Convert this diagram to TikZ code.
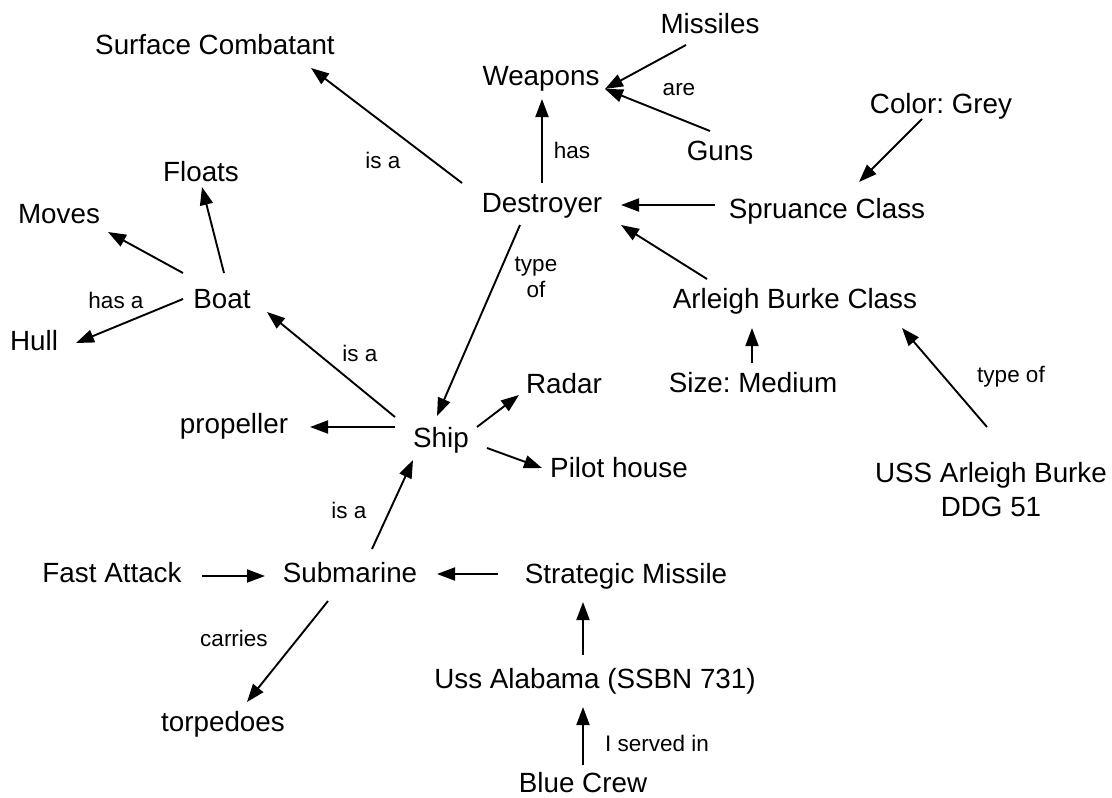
\documentclass[tikz,border=0pt]{standalone}
\usepackage{fontspec}
\setmainfont{Liberation Sans}
\usetikzlibrary{arrows.meta}
\frenchspacing
\tikzset{
  concept/.style={font=\fontsize{27.8}{34}\selectfont, inner sep=0pt, anchor=base},
  linklabel/.style={font=\fontsize{22.5}{26}\selectfont, inner sep=0pt, anchor=base},
  conn/.style={line width=1.9pt, -{Triangle[length=18pt,width=13pt]}}
}
\begin{document}
\begin{tikzpicture}[x=1pt,y=-1pt]
\useasboundingbox (0,0) rectangle (1112,798);
% concepts
\node[concept] (surface) at (215,54) {Surface Combatant};
\node[concept] (missiles) at (710,33) {Missiles};
\node[concept] (weapons) at (541,85) {Weapons};
\node[concept] (guns) at (720,160) {Guns};
\node[concept] (color) at (941,113) {Color: Grey};
\node[concept] (destroyer) at (542,212) {Destroyer};
\node[concept] (spruance) at (827,218) {Spruance Class};
\node[concept] (floats) at (201,181) {Floats};
\node[concept] (moves) at (59,223) {Moves};
\node[concept] (boat) at (222,308) {Boat};
\node[concept] (hull) at (34,350) {Hull};
\node[concept] (arleigh) at (795,308) {Arleigh Burke Class};
\node[concept] (radar) at (564,393) {Radar};
\node[concept] (sizemed) at (753,392) {Size: Medium};
\node[concept] (propeller) at (234,433) {propeller};
\node[concept] (ship) at (441,447) {Ship};
\node[concept] (pilot) at (619,477) {Pilot house};
\node[concept, anchor=center, align=center] (uss) at (991,490) {USS Arleigh Burke\\DDG 51};
\node[concept] (fast) at (112,582) {Fast Attack};
\node[concept] (submarine) at (350,582) {Submarine};
\node[concept] (strategic) at (626,583) {Strategic Missile};
\node[concept] (alabama) at (595,688) {Uss Alabama (SSBN 731)};
\node[concept] (torpedoes) at (223,731) {torpedoes};
\node[concept] (blue) at (583,792) {Blue Crew};
% linking phrases
\node[linklabel] (are) at (679,95) {are};
\node[linklabel] (has) at (572,158) {has};
\node[linklabel] (isa1) at (383,168) {is a};
\node[linklabel, anchor=center, align=center] (typeof1) at (536,277) {type\\of};
\node[linklabel] (hasa) at (116,308) {has a};
\node[linklabel] (isa2) at (360,361) {is a};
\node[linklabel] (typeof2) at (1011,382) {type of};
\node[linklabel] (isa3) at (349,518) {is a};
\node[linklabel] (carries) at (234,646) {carries};
\node[linklabel] (served) at (657,751) {I served in};
% connectors
\draw[conn] ([shift={(-80,-29)}]destroyer.base) -- ([shift={(96,14)}]surface.base);
\draw[conn] ([shift={(0,-29)}]destroyer.base) -- ([shift={(1,14)}]weapons.base);
\draw[conn] ([shift={(-24,12)}]missiles.base) -- ([shift={(64,4)}]weapons.base);
\draw[conn] ([shift={(-10,-29)}]guns.base) -- ([shift={(64,4)}]weapons.base);
\draw[conn] ([shift={(-112,-13)}]spruance.base) -- ([shift={(79,-7)}]destroyer.base);
\draw[conn] ([shift={(-19,6)}]color.base) -- ([shift={(32,-36)}]spruance.base);
\draw[conn] ([shift={(-88,-29)}]arleigh.base) -- ([shift={(79,13)}]destroyer.base);
\draw[conn] ([shift={(-1,-29)}]sizemed.base) -- ([shift={(-43,20)}]arleigh.base);
\draw[conn] ([shift={(-4,-63)}]uss.center) -- ([shift={(107,20)}]arleigh.base);
\draw[conn] ([shift={(-22,13)}]destroyer.base) -- ([shift={(-4,-31)}]ship.base);
\draw[conn] ([shift={(-46,-30)}]ship.base) -- ([shift={(45,4)}]boat.base);
\draw[conn] ([shift={(2,-35)}]boat.base) -- ([shift={(1,6)}]floats.base);
\draw[conn] ([shift={(-39,-35)}]boat.base) -- ([shift={(49,9)}]moves.base);
\draw[conn] ([shift={(-39,-9)}]boat.base) -- ([shift={(42,-7)}]hull.base);
\draw[conn] ([shift={(-46,-20)}]ship.base) -- ([shift={(76,-6)}]propeller.base);
\draw[conn] ([shift={(36,-20)}]ship.base) -- ([shift={(-45,2)}]radar.base);
\draw[conn] ([shift={(46,1)}]ship.base) -- ([shift={(-77,-9)}]pilot.base);
\draw[conn] ([shift={(22,-33)}]submarine.base) -- ([shift={(-28,13)}]ship.base);
\draw[conn] ([shift={(90,-6)}]fast.base) -- ([shift={(-85,-6)}]submarine.base);
\draw[conn] ([shift={(-128,-9)}]strategic.base) -- ([shift={(87,-8)}]submarine.base);
\draw[conn] ([shift={(-22,19)}]submarine.base) -- ([shift={(24,-29)}]torpedoes.base);
\draw[conn] ([shift={(-12,-33)}]alabama.base) -- ([shift={(-43,19)}]strategic.base);
\draw[conn] ([shift={(0,-27)}]blue.base) -- ([shift={(-12,19)}]alabama.base);
\end{tikzpicture}
\end{document}
